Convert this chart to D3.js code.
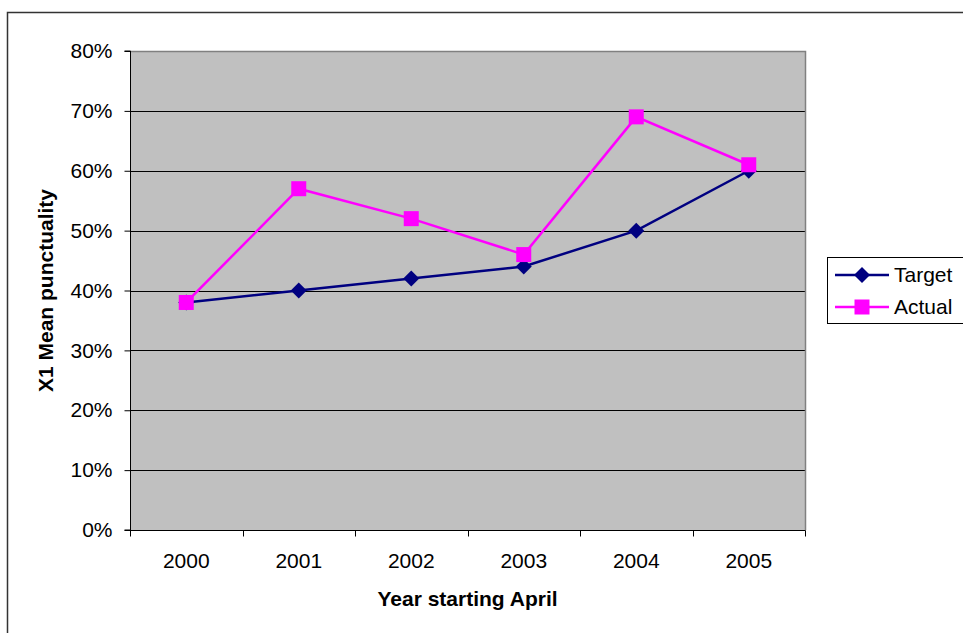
<!DOCTYPE html>
<html>
<head>
<meta charset="utf-8">
<script src="https://cdn.jsdelivr.net/npm/d3@7"></script>
<style>
body { margin: 0; background: #fff; }
svg { font-family: "Liberation Sans", Arial, sans-serif; }
</style>
</head>
<body>
<div id="chart"></div>
<script>
var w = 963, h = 633;
var years = ["2000", "2001", "2002", "2003", "2004", "2005"];
var target = [0.38, 0.40, 0.42, 0.44, 0.50, 0.60];
var actual = [0.38, 0.57, 0.52, 0.46, 0.69, 0.61];
var yTicks = [0, 0.1, 0.2, 0.3, 0.4, 0.5, 0.6, 0.7, 0.8];

var svg = d3.select("#chart").append("svg").attr("width", w).attr("height", h);

// outer chart border
svg.append("rect").attr("x", 7.5).attr("y", 12.5).attr("width", 970).attr("height", 640)
  .attr("fill", "none").attr("stroke", "#333").attr("stroke-width", 1.5);

var pLeft = 130, pRight = 805, pTop = 51, pBottom = 530;
var fs = 21;

var x = d3.scaleBand().domain(years).range([pLeft, pRight]);
var y = d3.scaleLinear().domain([0, 0.8]).range([pBottom, pTop]);

svg.append("rect").attr("x", pLeft).attr("y", pTop).attr("width", pRight - pLeft).attr("height", pBottom - pTop)
  .attr("fill", "#c0c0c0");

// gridlines
svg.selectAll(".grid").data(yTicks.slice(1, -1)).enter().append("line")
  .attr("x1", pLeft).attr("x2", pRight)
  .attr("y1", function(d) { return Math.round(y(d)) + 0.5; })
  .attr("y2", function(d) { return Math.round(y(d)) + 0.5; })
  .attr("stroke", "#000").attr("stroke-width", 1);

// plot frame top/right
svg.append("path").attr("d", "M" + pLeft + "," + (pTop + 0.5) + "H" + (pRight + 0.5) + "V" + pBottom)
  .attr("fill", "none").attr("stroke", "#808080").attr("stroke-width", 1.5);

// y axis
var yAxis = svg.append("g").attr("transform", "translate(" + (pLeft + 0.5) + ",0)")
  .call(d3.axisLeft(y).tickValues(yTicks).tickFormat(d3.format(".0%")).tickSize(6).tickPadding(12));
yAxis.selectAll("text").attr("font-size", fs).attr("fill", "#000").attr("font-family", null);
yAxis.selectAll("line,path").attr("stroke", "#000");
yAxis.select(".domain").attr("d", "M-6," + pTop + "H0V" + pBottom + "H-6");

// x axis with ticks at band edges
var xg = svg.append("g").attr("transform", "translate(0," + (pBottom + 0.5) + ")");
xg.append("line").attr("x1", pLeft).attr("x2", pRight + 0.5).attr("stroke", "#000");
var edges = years.map(function(d) { return x(d); }).concat([pRight]);
xg.selectAll(".tk").data(edges).enter().append("line")
  .attr("x1", function(d) { return Math.round(d) + 0.5; }).attr("x2", function(d) { return Math.round(d) + 0.5; })
  .attr("y1", 0).attr("y2", 6).attr("stroke", "#000");
xg.selectAll(".lb").data(years).enter().append("text")
  .attr("x", function(d) { return x(d) + x.bandwidth() / 2; })
  .attr("y", 37).attr("text-anchor", "middle").attr("font-size", fs).text(function(d) { return d; });

// axis titles
svg.append("text").attr("x", (pLeft + pRight) / 2).attr("y", 606).attr("text-anchor", "middle")
  .attr("font-size", fs).attr("font-weight", "bold").text("Year starting April");
svg.append("text").attr("transform", "translate(53," + ((pTop + pBottom) / 2) + ") rotate(-90)")
  .attr("text-anchor", "middle").attr("font-size", fs).attr("font-weight", "bold").text("X1 Mean punctuality");

var cx = function(d, i) { return x(years[i]) + x.bandwidth() / 2; };
var line = d3.line().x(cx).y(function(d) { return y(d); });

svg.append("path").datum(target).attr("d", line).attr("fill", "none").attr("stroke", "#000080").attr("stroke-width", 2.5);
svg.append("path").datum(actual).attr("d", line).attr("fill", "none").attr("stroke", "#ff00ff").attr("stroke-width", 2.5);

svg.selectAll(".tm").data(target).enter().append("path")
  .attr("d", "M0,-8L8,0L0,8L-8,0Z")
  .attr("transform", function(d, i) { return "translate(" + cx(d, i) + "," + y(d) + ")"; })
  .attr("fill", "#000080");
svg.selectAll(".am").data(actual).enter().append("rect")
  .attr("x", function(d, i) { return cx(d, i) - 7.5; }).attr("y", function(d) { return y(d) - 7.5; })
  .attr("width", 15).attr("height", 15).attr("fill", "#ff00ff");

// legend
var lg = svg.append("g").attr("transform", "translate(827,257)");
lg.append("rect").attr("x", 0.5).attr("y", 0.5).attr("width", 136).attr("height", 66)
  .attr("fill", "#fff").attr("stroke", "#000");
var items = [["Target", "#000080"], ["Actual", "#ff00ff"]];
items.forEach(function(it, i) {
  var yy = 18 + i * 32;
  lg.append("line").attr("x1", 8).attr("x2", 62).attr("y1", yy).attr("y2", yy).attr("stroke", it[1]).attr("stroke-width", 2.5);
  if (i == 0) lg.append("path").attr("d", "M0,-8L8,0L0,8L-8,0Z").attr("transform", "translate(35," + yy + ")").attr("fill", it[1]);
  else lg.append("rect").attr("x", 27.5).attr("y", yy - 7.5).attr("width", 15).attr("height", 15).attr("fill", it[1]);
  lg.append("text").attr("x", 67).attr("y", yy + 7).attr("font-size", fs).text(it[0]);
});
</script>
</body>
</html>
